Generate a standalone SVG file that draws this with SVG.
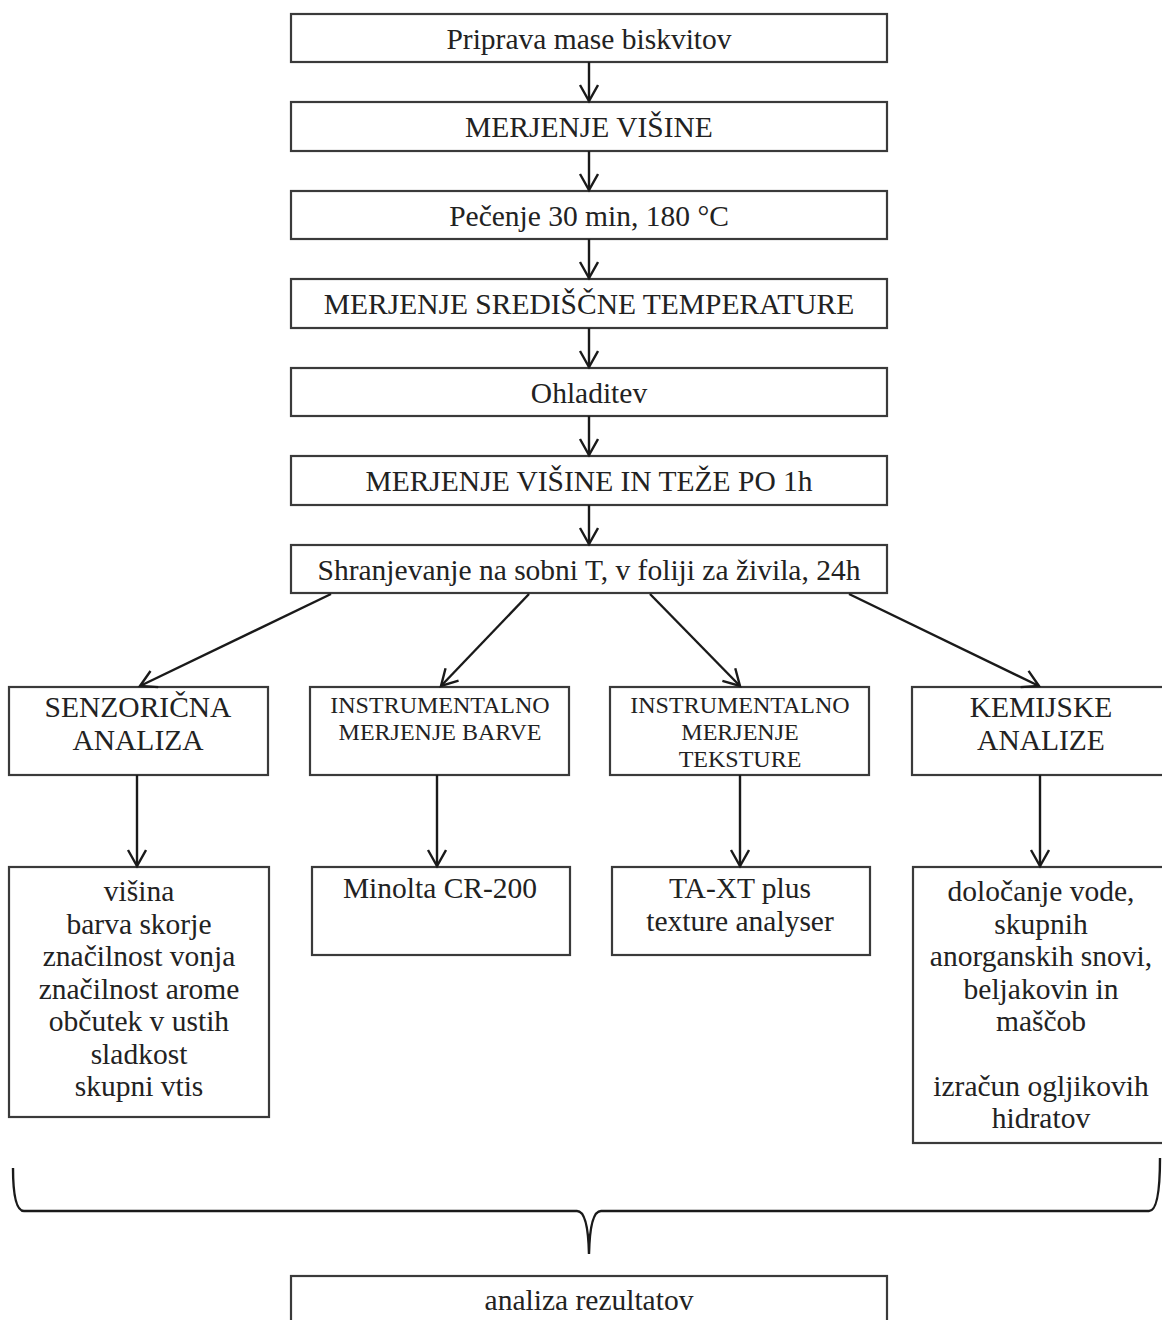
<svg xmlns="http://www.w3.org/2000/svg" width="1162" height="1320" viewBox="0 0 1162 1320">
<style>
.b{fill:#fff;stroke:#3a3a3a;stroke-width:2.2}
text{font-family:'Liberation Serif','Times New Roman','DejaVu Serif',serif;fill:#222;text-anchor:middle}
.l{font-size:29.5px}
.s{font-size:24px}
.c{stroke:#1a1a1a;stroke-width:2.4;fill:none}
</style>
<defs>
<marker id="ah" markerWidth="20" markerHeight="22" refX="17" refY="10" orient="auto" markerUnits="userSpaceOnUse">
<path d="M1,1 L17,10 L1,19" fill="none" stroke="#1a1a1a" stroke-width="2.4"/>
</marker>
</defs>
<rect width="1162" height="1320" fill="#fff"/>
<g id="n1"><rect class="b" x="291" y="14" width="596" height="48"/><text class="l" x="589" y="49">Priprava mase biskvitov</text></g>
<g id="n2"><rect class="b" x="291" y="102" width="596" height="49"/><text class="l" x="589" y="137">MERJENJE VIŠINE</text></g>
<g id="n3"><rect class="b" x="291" y="191" width="596" height="48"/><text class="l" x="589" y="226">Pečenje 30 min, 180 °C</text></g>
<g id="n4"><rect class="b" x="291" y="279" width="596" height="49"/><text class="l" x="589" y="314">MERJENJE SREDIŠČNE TEMPERATURE</text></g>
<g id="n5"><rect class="b" x="291" y="368" width="596" height="48"/><text class="l" x="589" y="403">Ohladitev</text></g>
<g id="n6"><rect class="b" x="291" y="456" width="596" height="49"/><text class="l" x="589" y="491">MERJENJE VIŠINE IN TEŽE PO 1h</text></g>
<g id="n7"><rect class="b" x="291" y="545" width="596" height="48"/><text class="l" x="589" y="580">Shranjevanje na sobni T, v foliji za živila, 24h</text></g>
<g id="c1"><rect class="b" x="9" y="687" width="259" height="88"/><text class="l" x="138" y="717">SENZORIČNA</text><text class="l" x="138" y="750">ANALIZA</text></g>
<g id="c2"><rect class="b" x="310" y="687" width="259" height="88"/><text class="s" x="440" y="713">INSTRUMENTALNO</text><text class="s" x="440" y="740">MERJENJE BARVE</text></g>
<g id="c3"><rect class="b" x="610" y="687" width="259" height="88"/><text class="s" x="740" y="713">INSTRUMENTALNO</text><text class="s" x="740" y="740">MERJENJE</text><text class="s" x="740" y="767">TEKSTURE</text></g>
<g id="c4"><rect class="b" x="912" y="687" width="262" height="88"/><text class="l" x="1041" y="717">KEMIJSKE</text><text class="l" x="1041" y="750">ANALIZE</text></g>
<g id="d1"><rect class="b" x="9" y="867" width="260" height="250"/>
<text class="l" x="139" y="901">višina</text><text class="l" x="139" y="934">barva skorje</text><text class="l" x="139" y="966">značilnost vonja</text><text class="l" x="139" y="999">značilnost arome</text><text class="l" x="139" y="1031">občutek v ustih</text><text class="l" x="139" y="1064">sladkost</text><text class="l" x="139" y="1096">skupni vtis</text></g>
<g id="d2"><rect class="b" x="312" y="867" width="258" height="88"/><text class="l" x="440" y="898">Minolta CR-200</text></g>
<g id="d3"><rect class="b" x="612" y="867" width="258" height="88"/><text class="l" x="740" y="898">TA-XT plus</text><text class="l" x="740" y="931">texture analyser</text></g>
<g id="d4"><rect class="b" x="913" y="867" width="261" height="276"/>
<text class="l" x="1041" y="901">določanje vode,</text><text class="l" x="1041" y="934">skupnih</text><text class="l" x="1041" y="966">anorganskih snovi,</text><text class="l" x="1041" y="999">beljakovin in</text><text class="l" x="1041" y="1031">maščob</text><text class="l" x="1041" y="1096">izračun ogljikovih</text><text class="l" x="1041" y="1128">hidratov</text></g>
<g id="n8"><rect class="b" x="291" y="1276" width="596" height="60"/><text class="l" x="589" y="1310">analiza rezultatov</text></g>
<g id="connectors">
<line class="c" x1="589" y1="62" x2="589" y2="101"  marker-end="url(#ah)"/>
<line class="c" x1="589" y1="151" x2="589" y2="190" marker-end="url(#ah)"/>
<line class="c" x1="589" y1="239" x2="589" y2="278" marker-end="url(#ah)"/>
<line class="c" x1="589" y1="328" x2="589" y2="367" marker-end="url(#ah)"/>
<line class="c" x1="589" y1="416" x2="589" y2="455" marker-end="url(#ah)"/>
<line class="c" x1="589" y1="505" x2="589" y2="544" marker-end="url(#ah)"/>
<line class="c" x1="331" y1="594" x2="140" y2="686" marker-end="url(#ah)"/>
<line class="c" x1="529" y1="594" x2="441" y2="686" marker-end="url(#ah)"/>
<line class="c" x1="650" y1="594" x2="740" y2="686" marker-end="url(#ah)"/>
<line class="c" x1="849" y1="594" x2="1039" y2="686" marker-end="url(#ah)"/>
<line class="c" x1="137" y1="775" x2="137" y2="866" marker-end="url(#ah)"/>
<line class="c" x1="437" y1="775" x2="437" y2="866" marker-end="url(#ah)"/>
<line class="c" x1="740" y1="775" x2="740" y2="866" marker-end="url(#ah)"/>
<line class="c" x1="1040" y1="775" x2="1040" y2="866" marker-end="url(#ah)"/>
<path class="c" stroke-width="2" d="M13,1168 Q13,1211 24,1211 L577,1211 Q588,1211 589,1254 Q590,1211 601,1211 L1149,1211 Q1160,1211 1160,1158"/>
</g>
</svg>
